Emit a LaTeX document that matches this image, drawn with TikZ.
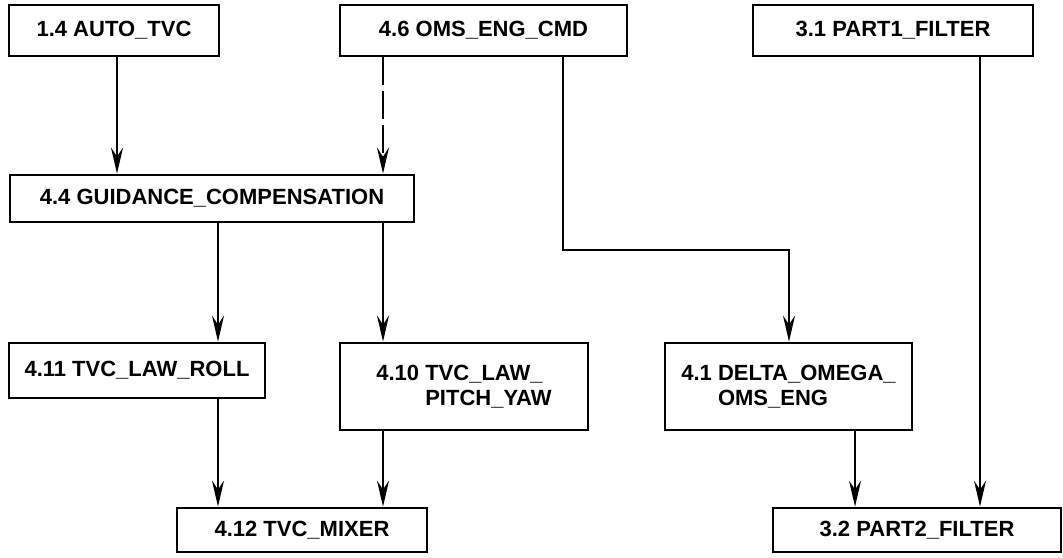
\documentclass[tikz,border=0pt]{standalone}
\usepackage{fontspec}
\setmainfont{Liberation Sans}
\usetikzlibrary{arrows.meta}
\tikzset{
  blk/.style={draw, line width=1.4pt, inner sep=0pt, font=\bfseries\fontsize{11}{12.5}\selectfont},
  flow/.style={line width=1.2pt, -{Stealth[length=13pt,width=6pt,inset=4.5pt]}},
}
\begin{document}
\begin{tikzpicture}[x=0.5pt, y=-0.5pt]
  \useasboundingbox (0,0) rectangle (1063,557); % page size
  % top row
  \node[blk, minimum width=105pt, minimum height=25.5pt] (auto) at (114,30.5) {1.4 AUTO\_TVC};
  \node[blk, minimum width=143.5pt, minimum height=25.5pt] (omscmd) at (483.5,30.5) {4.6 OMS\_ENG\_CMD};
  \node[blk, minimum width=140pt, minimum height=25.5pt] (part1) at (893,30.5) {3.1 PART1\_FILTER};
  % middle
  \node[blk, minimum width=202pt, minimum height=23.5pt] (guid) at (212,198.5) {4.4 GUIDANCE\_COMPENSATION};
  \node[blk, minimum width=128pt, minimum height=27.5pt] (roll) at (137,370.5) {4.11 TVC\_LAW\_ROLL};
  \node[blk, minimum width=124pt, minimum height=43.5pt, align=left] (pitch) at (464,386.5) {4.10 TVC\_LAW\_\\\hphantom{4.10 }PITCH\_YAW};
  \node[blk, minimum width=123.5pt, minimum height=43.5pt, align=left] (delta) at (788.5,386.5) {4.1 DELTA\_OMEGA\_\\\hphantom{4.1 }OMS\_ENG};
  % bottom row
  \node[blk, minimum width=125pt, minimum height=22pt] (mixer) at (302,530) {4.12 TVC\_MIXER};
  \node[blk, minimum width=144pt, minimum height=22pt] (part2) at (917,530) {3.2 PART2\_FILTER};

  % lanes
  \coordinate (l1) at (117,0);
  \coordinate (l2) at (383,0);
  \coordinate (l3) at (563,0);
  \coordinate (bend) at (789,250);
  \coordinate (l4) at (218,0);
  \coordinate (l5) at (855,0);
  \coordinate (l6) at (980,0);

  \draw[flow] (l1 |- auto.south) -- (l1 |- guid.north);
  \draw[flow, dash pattern=on 14pt off 3pt] (l2 |- omscmd.south) -- (l2 |- guid.north);
  \draw[flow] (l3 |- omscmd.south) |- (bend) -- (bend |- delta.north);
  \draw[flow] (l4 |- guid.south) -- (l4 |- roll.north);
  \draw[flow] (l2 |- guid.south) -- (l2 |- pitch.north);
  \draw[flow] (l4 |- roll.south) -- (l4 |- mixer.north);
  \draw[flow] (l2 |- pitch.south) -- (l2 |- mixer.north);
  \draw[flow] (l5 |- delta.south) -- (l5 |- part2.north);
  \draw[flow] (l6 |- part1.south) -- (l6 |- part2.north);
\end{tikzpicture}
\end{document}
